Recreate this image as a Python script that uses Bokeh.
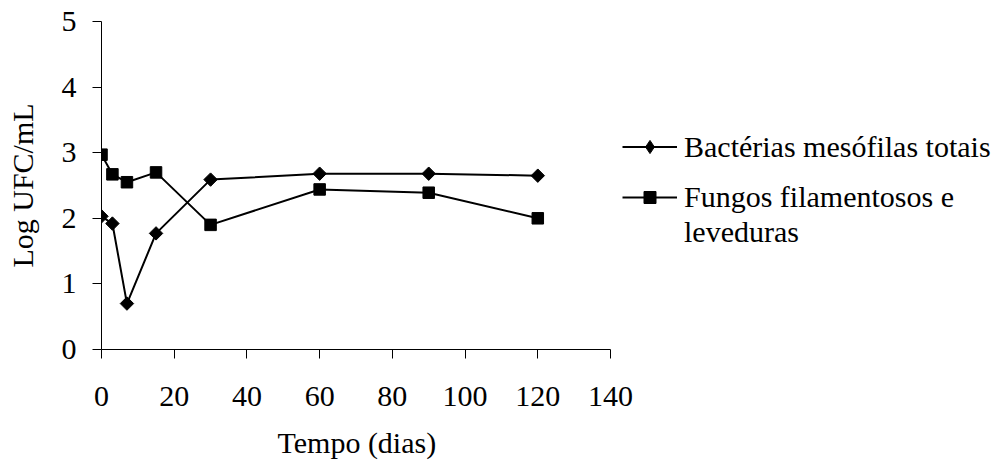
import math
from bokeh.plotting import figure
from bokeh.models import Legend, LegendItem, ColumnDataSource, FixedTicker, Title
from bokeh.embed import file_html
from bokeh.resources import INLINE

# Data
dias = [0, 3, 7, 15, 30, 60, 90, 120]
bacterias = [2.03, 1.92, 0.70, 1.77, 2.59, 2.68, 2.68, 2.65]
fungos = [2.97, 2.67, 2.55, 2.70, 1.90, 2.44, 2.39, 2.00]
x_ticks = [0, 20, 40, 60, 80, 100, 120, 140]
y_ticks = [0, 1, 2, 3, 4, 5]
x_axis_max = 140
x_title = "Tempo (dias)"
y_title = "Log UFC/mL"
label_bact = "Bactérias mesófilas totais"
label_fung_1 = "Fungos filamentosos e"
label_fung_2 = "leveduras"

FONT = "Liberation Serif"
FS = "30px"

# Layout: axis spans 509 px; the frame continues to the right edge to hold the legend
W, H = 992, 474
LEFT, TOP, BOTTOM = 101, 21, 125
AXIS_PX = 509
frame_w = W - LEFT
x_end = x_axis_max * frame_w / AXIS_PX

p = figure(width=W, height=H, x_range=(0, x_end), y_range=(0, 5),
           output_backend="svg", toolbar_location=None,
           min_border_left=LEFT, min_border_right=0,
           min_border_top=TOP, min_border_bottom=BOTTOM)
p.outline_line_color = None
p.xgrid.visible = False
p.ygrid.visible = False
p.background_fill_color = "white"
p.border_fill_color = "white"

for ax in (p.xaxis[0], p.yaxis[0]):
    ax.axis_line_color = "black"
    ax.axis_line_width = 1
    ax.major_tick_line_color = "black"
    ax.major_tick_in = 0
    ax.major_tick_out = 9
    ax.minor_tick_line_color = None
    ax.major_label_text_font = FONT
    ax.major_label_text_font_size = FS
    ax.major_label_text_color = "black"
    ax.axis_label_text_font = FONT
    ax.axis_label_text_font_size = FS
    ax.axis_label_text_font_style = "normal"
    ax.axis_label_text_color = "black"

p.xaxis[0].ticker = FixedTicker(ticks=x_ticks)
p.xaxis[0].bounds = (0, x_axis_max)
p.yaxis[0].ticker = FixedTicker(ticks=y_ticks)
p.yaxis[0].axis_label = y_title
p.xaxis[0].major_label_standoff = 28
p.yaxis[0].major_label_standoff = 16
p.yaxis[0].axis_label_standoff = 20

# x title centred under the axis span (not the whole frame)
xt = Title(text=x_title, align="left", offset=176, standoff=31,
           text_font=FONT, text_font_size=FS, text_font_style="normal",
           text_color="black")
p.add_layout(xt, "below")

src_b = ColumnDataSource(dict(x=dias, y=bacterias))
src_f = ColumnDataSource(dict(x=dias, y=fungos))

lb = p.line("x", "y", source=src_b, line_color="black", line_width=2)
mb = p.scatter("x", "y", source=src_b, marker="square", size=9.5,
               angle=math.pi / 4, fill_color="black", line_color="black")
lf = p.line("x", "y", source=src_f, line_color="black", line_width=2)
mf = p.scatter("x", "y", source=src_f, marker="square", size=11.5,
               fill_color="black", line_color="black")

# legend-only key glyphs (nothing drawn in the plot)
nan = float("nan")
key_src = ColumnDataSource(dict(x=[nan], y=[nan]))
kb = p.scatter("x", "y", source=key_src, marker="diamond",
               fill_color="black", line_color="black")
kblank = p.line("x", "y", source=key_src, line_alpha=0)


def style(lg):
    lg.border_line_color = None
    lg.background_fill_alpha = 0
    lg.padding = 0
    lg.margin = 0
    lg.spacing = 0
    lg.glyph_width = 55
    lg.glyph_height = 33
    lg.label_standoff = 7
    lg.label_text_font = FONT
    lg.label_text_font_size = FS
    lg.label_text_color = "black"
    lg.label_height = 35


legend_a = Legend(items=[LegendItem(label=label_bact, renderers=[lb, kb])],
                  location=(521, 185))
legend_b = Legend(items=[LegendItem(label=label_fung_1, renderers=[lf, mf]),
                         LegendItem(label=label_fung_2, renderers=[kblank])],
                  location=(521, 100))
style(legend_a)
style(legend_b)
legend_b.glyph_height = 30
p.add_layout(legend_a, "center")
p.add_layout(legend_b, "center")

open("out.html", "w").write(file_html(p, INLINE))
